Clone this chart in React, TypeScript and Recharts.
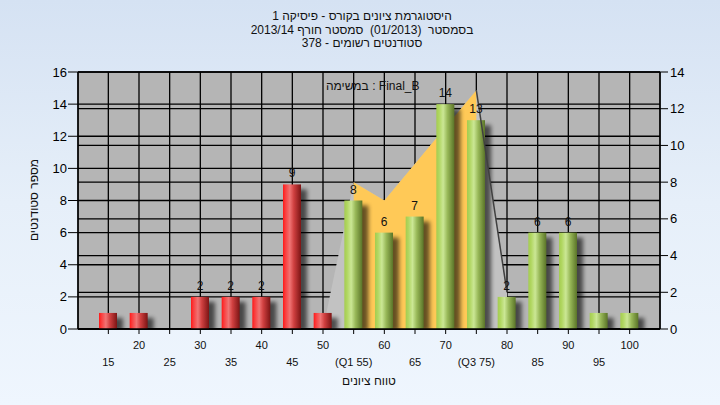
import React from "react";
import {
  ComposedChart,
  Bar,
  Area,
  Line,
  XAxis,
  YAxis,
  CartesianGrid,
  LabelList,
  Cell,
} from "recharts";

const categories = [15, 20, 25, 30, 35, 40, 45, 50, 55, 60, 65, 70, 75, 80, 85, 90, 95, 100];
const counts = [1, 1, 0, 2, 2, 2, 9, 1, 8, 6, 7, 14, 13, 2, 6, 6, 1, 1];
const distValues = [null, null, null, null, null, null, null, 0, 8, 7, 9, 11, 13, 2, null, null, null, null];
const iqrValues = [null, null, null, null, null, null, null, null, 8, 7, 9, 11, 13, null, null, null, null, null];
const tailValues = [null, null, null, null, null, null, null, null, null, null, null, null, 13, 2, null, null, null, null];
const xTickLabels = ["15", "20", "25", "30", "35", "40", "45", "50", "(Q1 55)", "60", "65", "70", "(Q3 75)", "80", "85", "90", "95", "100"];
const leftTicks = [0, 2, 4, 6, 8, 10, 12, 14, 16];
const rightTicks = [0, 2, 4, 6, 8, 10, 12, 14];
const passMark = 55;

const titleLines = [
  "היסטוגרמת ציונים בקורס - פיסיקה 1",
  "בסמסטר  (01/2013)  סמסטר חורף 2013/14",
  "סטודנטים רשומים - 378",
];
const legendText = "במשימה : Final_B";
const xLabel = "טווח ציונים";
const yLabel = "מספר סטודנטים";

const data = categories.map((c, i) => ({
  cat: c,
  count: counts[i],
  dist: distValues[i],
  iqr: iqrValues[i],
  tail: tailValues[i],
}));

const FONT = "'Liberation Sans', 'DejaVu Sans', Arial, sans-serif";

function CylBar(props: any) {
  const { x, y, width, height, index } = props;
  if (!height || height <= 0) return null;
  const red = categories[index] < passMark;
  return (
    <g>
      <rect
        x={x + 6}
        y={y + 5}
        width={width}
        height={Math.max(height - 3, 0)}
        fill="#000"
        opacity={0.6}
        filter="url(#shadowBlur)"
      />
      <rect x={x} y={y} width={width} height={height} fill={red ? "url(#gRed)" : "url(#gGreen)"} />
    </g>
  );
}

function BarLabel(props: any) {
  const { x, y, width, value } = props;
  if (value == null || value < 2) return null;
  return (
    <text x={x + width / 2} y={y - 7} textAnchor="middle" fontSize={12} fontFamily={FONT} fill="#111">
      {value}
    </text>
  );
}

function XTick(props: any) {
  const { x, payload, index } = props;
  const i = payload && payload.index != null ? payload.index : index;
  const secondRow = i % 2 === 0;
  return (
    <text x={x} y={secondRow ? 366 : 349} textAnchor="middle" fontSize={11} fontFamily={FONT} fill="#111">
      {xTickLabels[i]}
    </text>
  );
}

export default function App() {
  return (
    <div
      style={{
        position: "absolute",
        left: 0,
        top: 0,
        width: 720,
        height: 405,
        background: "linear-gradient(to bottom, #d5e2f3 0%, #e6eff9 50%, #eff6fe 100%)",
        fontFamily: FONT,
        overflow: "hidden",
      }}
    >
      <ComposedChart
        width={720}
        height={405}
        data={data}
        margin={{ top: 72, right: 0, bottom: 0, left: 0 }}
      >
        <defs>
          <linearGradient id="gRed" x1="0" y1="0" x2="1" y2="0">
            <stop offset="0%" stopColor="#ff1818" />
            <stop offset="12%" stopColor="#fa3a3a" />
            <stop offset="38%" stopColor="#f07474" />
            <stop offset="60%" stopColor="#d04040" />
            <stop offset="100%" stopColor="#7c1414" />
          </linearGradient>
          <linearGradient id="gGreen" x1="0" y1="0" x2="1" y2="0">
            <stop offset="0%" stopColor="#a4cc50" />
            <stop offset="15%" stopColor="#b0d660" />
            <stop offset="38%" stopColor="#cbe795" />
            <stop offset="62%" stopColor="#98b858" />
            <stop offset="100%" stopColor="#5a7428" />
          </linearGradient>
          <filter id="shadowBlur" x="-50%" y="-50%" width="200%" height="200%">
            <feGaussianBlur stdDeviation="2.2" />
          </filter>
        </defs>
        <CartesianGrid yAxisId="left" stroke="#000" strokeWidth={1.3} fill="#b5b5b5" fillOpacity={1} />
        <CartesianGrid yAxisId="right" stroke="#000" strokeWidth={1.3} vertical={false} />
        <XAxis
          dataKey="cat"
          type="category"
          interval={0}
          padding={{ left: 15, right: 15 }}
          height={76}
          tickSize={5}
          axisLine={{ stroke: "#000", strokeWidth: 1.3 }}
          tickLine={{ stroke: "#000" }}
          tick={<XTick />}
        />
        <YAxis
          yAxisId="left"
          domain={[0, 16]}
          ticks={leftTicks}
          width={78}
          tickSize={10}
          tickMargin={1}
          axisLine={{ stroke: "#000", strokeWidth: 1.3 }}
          tickLine={{ stroke: "#000" }}
          tick={{ fontSize: 13, fill: "#000", fontFamily: FONT }}
          allowDataOverflow
        />
        <YAxis
          yAxisId="right"
          orientation="right"
          domain={[0, 14]}
          ticks={rightTicks}
          width={60}
          tickSize={8}
          tickMargin={2}
          axisLine={{ stroke: "#000", strokeWidth: 1.3 }}
          tickLine={{ stroke: "#000" }}
          tick={{ fontSize: 13, fill: "#000", fontFamily: FONT }}
          allowDataOverflow
        />
        <Area
          yAxisId="right"
          dataKey="dist"
          type="linear"
          fill="#c2c2c2"
          fillOpacity={1}
          stroke="none"
          isAnimationActive={false}
          dot={false}
          activeDot={false}
        />
        <Area
          yAxisId="right"
          dataKey="iqr"
          type="linear"
          fill="#ffc957"
          fillOpacity={1}
          stroke="none"
          isAnimationActive={false}
          dot={false}
          activeDot={false}
        />
        <Line
          yAxisId="right"
          dataKey="tail"
          type="linear"
          stroke="#404040"
          strokeWidth={1.5}
          dot={false}
          activeDot={false}
          isAnimationActive={false}
        />
        <Bar yAxisId="left" dataKey="count" barSize={18} shape={<CylBar />} isAnimationActive={false}>
          {data.map((d, i) => (
            <Cell key={i} fill={d.cat < passMark ? "#e03030" : "#a8cc60"} />
          ))}
          <LabelList dataKey="count" content={<BarLabel />} />
        </Bar>
      </ComposedChart>

      <div
        dir="rtl"
        style={{
          position: "absolute",
          left: 0,
          top: 10,
          width: 724,
          textAlign: "center",
          fontSize: 12,
          lineHeight: "13.5px",
          color: "#111",
          whiteSpace: "pre",
        }}
      >
        {titleLines.map((t, i) => (
          <div key={i}>{t}</div>
        ))}
      </div>

      <div
        dir="ltr"
        style={{
          position: "absolute",
          left: 326,
          top: 79,
          fontSize: 12,
          color: "#111",
          whiteSpace: "pre",
        }}
      >
        {legendText}
      </div>

      <div
        dir="rtl"
        style={{
          position: "absolute",
          left: 369,
          top: 381,
          transform: "translate(-50%, -50%)",
          fontSize: 12,
          color: "#111",
          whiteSpace: "pre",
        }}
      >
        {xLabel}
      </div>

      <div
        dir="rtl"
        style={{
          position: "absolute",
          left: 34,
          top: 200,
          transform: "translate(-50%, -50%) rotate(-90deg)",
          fontSize: 12,
          color: "#111",
          whiteSpace: "pre",
        }}
      >
        {yLabel}
      </div>
    </div>
  );
}
